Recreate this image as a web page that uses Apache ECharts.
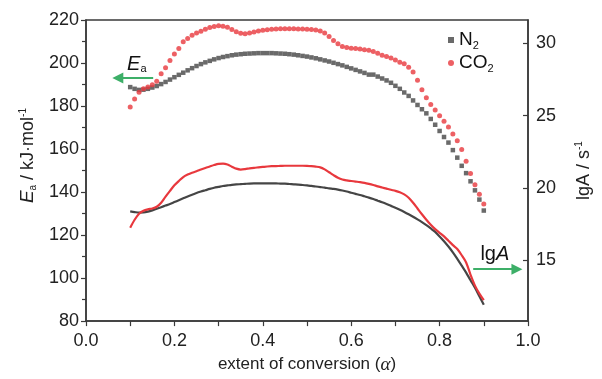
<!DOCTYPE html>
<html><head><meta charset="utf-8">
<script src="https://cdn.jsdelivr.net/npm/echarts@6/dist/echarts.min.js"></script>
<style>html,body{margin:0;padding:0;background:#fff}#c{width:602px;height:379px}</style>
</head><body><div id="c"></div>
<script>
// extent of conversion (alpha)
const alpha = [0.10,0.11,0.12,0.13,0.14,0.15,0.16,0.17,0.18,0.19,0.20,0.21,0.22,0.23,0.24,0.25,0.26,0.27,0.28,0.29,
0.30,0.31,0.32,0.33,0.34,0.35,0.36,0.37,0.38,0.39,0.40,0.41,0.42,0.43,0.44,0.45,0.46,0.47,0.48,0.49,
0.50,0.51,0.52,0.53,0.54,0.55,0.56,0.57,0.58,0.59,0.60,0.61,0.62,0.63,0.64,0.65,0.66,0.67,0.68,0.69,
0.70,0.71,0.72,0.73,0.74,0.75,0.76,0.77,0.78,0.79,0.80,0.81,0.82,0.83,0.84,0.85,0.86,0.87,0.88,0.89,0.90];
// Ea (kJ/mol), N2
const eaN2 = [188.8,188.0,187.5,187.6,188.0,188.6,189.3,190.2,191.2,192.3,193.4,194.5,195.5,196.6,197.6,198.6,199.5,200.3,201.0,201.7,
202.3,202.8,203.2,203.6,203.9,204.1,204.3,204.4,204.5,204.6,204.6,204.6,204.6,204.5,204.4,204.3,204.1,203.9,203.6,203.3,
203.0,202.6,202.2,201.7,201.2,200.7,200.1,199.5,198.9,198.2,197.5,196.8,196.1,195.4,194.6,194.6,193.7,192.8,191.9,190.8,
189.4,188.0,186.3,184.7,182.6,180.5,178.5,176.6,174.0,171.3,168.4,165.6,163.0,159.5,156.0,152.2,148.8,145.0,140.8,136.5,131.4];
// Ea (kJ/mol), CO2
const eaCO2 = [179.5,183.3,186.4,188.0,188.8,189.9,191.5,195.0,197.8,201.2,204.2,206.8,209.9,211.4,212.9,214.0,214.8,215.7,216.5,217.0,
217.3,217.1,216.6,215.6,214.5,213.8,213.6,213.9,214.4,214.9,215.2,215.5,215.7,215.8,215.9,215.9,215.9,215.9,215.8,215.8,
215.7,215.6,215.4,214.9,214.0,212.3,210.5,208.9,207.7,207.2,206.9,206.7,206.5,206.2,205.9,205.4,204.5,203.6,203.0,202.3,
201.4,200.4,199.6,198.0,195.8,192.0,187.6,183.8,180.7,178.1,175.5,172.9,170.2,167.0,163.8,159.8,154.3,148.6,143.4,139.0,134.5];
// lgA (s^-1), N2
const lgAN2 = [18.38,18.33,18.29,18.30,18.36,18.45,18.56,18.67,18.78,18.89,19.02,19.15,19.28,19.41,19.53,19.65,19.75,19.84,19.93,20.01,
20.07,20.13,20.17,20.21,20.24,20.26,20.28,20.30,20.31,20.31,20.32,20.32,20.32,20.31,20.30,20.29,20.27,20.25,20.23,20.20,
20.17,20.14,20.10,20.06,20.02,19.97,19.93,19.88,19.82,19.75,19.67,19.59,19.51,19.42,19.33,19.23,19.12,19.01,18.89,18.76,
18.63,18.49,18.34,18.18,18.01,17.83,17.64,17.43,17.20,16.96,16.65,16.32,15.95,15.55,15.10,14.63,14.15,13.62,13.10,12.52,11.93];
// lgA (s^-1), CO2
const lgACO2 = [17.25,17.80,18.22,18.42,18.52,18.58,18.70,18.98,19.40,19.80,20.18,20.48,20.75,20.92,21.05,21.15,21.27,21.38,21.48,21.58,
21.66,21.68,21.62,21.47,21.33,21.27,21.30,21.35,21.39,21.42,21.45,21.48,21.50,21.51,21.52,21.53,21.53,21.53,21.53,21.53,
21.52,21.50,21.47,21.42,21.28,21.08,20.88,20.70,20.58,20.52,20.48,20.44,20.40,20.35,20.28,20.20,20.11,20.03,19.95,19.87,
19.80,19.70,19.55,19.32,18.98,18.58,18.18,17.80,17.45,17.15,16.90,16.65,16.35,16.05,15.78,15.35,14.85,14.00,13.25,12.70,12.25];
const xTicks = [0, 0.2, 0.4, 0.6, 0.8, 1.0];
const leftTicks = [80, 100, 120, 140, 160, 180, 200, 220];
const rightTicks = [15, 20, 25, 30];
// annotation arrows in data coordinates
const eaArrow = [[0.152, 193.0], [0.072, 193.0]];
const lgArrow = [[0.876, 14.39], [0.975, 14.39]];

const FONT = '"Liberation Sans Narrow", "Arial Narrow", "Liberation Sans", Arial, sans-serif';
const AX = '#3a3a3a';
const RED = '#e8383d';
const GRAY = '#454545';
const GREEN = '#3daf68';
const pairs = (a) => alpha.map((x, i) => [x, a[i]]);

const chart = echarts.init(document.getElementById('c'), null, {renderer: 'canvas'});
chart.setOption({
  animation: false,
  backgroundColor: '#fff',
  grid: {left: 86, right: 74, top: 20, bottom: 53, show: true, borderColor: AX, borderWidth: 1.5, backgroundColor: 'transparent'},
  legend: {
    orient: 'vertical', left: 443, top: 24, itemWidth: 6, itemHeight: 6, itemGap: 1,
    textStyle: {fontFamily: FONT, fontSize: 19, color: '#111', lineHeight: 20,
      rich: {s: {fontFamily: FONT, fontSize: 11, lineHeight: 11, padding: [11, 0, 0, 0], color: '#111'}}},
    formatter: n => n === 'N2' ? 'N{s|2}' : 'CO{s|2}',
    data: [{name: 'N2', icon: 'rect'}, {name: 'CO2', icon: 'circle'}]
  },
  xAxis: {
    type: 'value', min: 0, max: 1, interval: 0.2,
    axisLine: {show: true, lineStyle: {color: AX, width: 1.5}},
    axisTick: {show: true, length: 5, lineStyle: {color: AX, width: 1.2}},
    minorTick: {show: true, splitNumber: 2, length: 5, lineStyle: {color: AX, width: 1.2}},
    splitLine: {show: false},
    axisLabel: {fontFamily: FONT, fontSize: 18, color: '#222', margin: 11,
      customValues: xTicks, formatter: v => v.toFixed(1)},
    name: 'extent of conversion ({g|α})', nameLocation: 'middle', nameGap: 29,
    nameTextStyle: {fontFamily: FONT, fontSize: 17, color: '#222',
      rich: {g: {fontFamily: '"Liberation Serif", "DejaVu Serif", serif', fontStyle: 'italic', fontSize: 19, color: '#222'}}}
  },
  yAxis: [{
    type: 'value', min: 80, max: 220, interval: 20, position: 'left',
    axisLine: {show: true, lineStyle: {color: AX, width: 1.5}},
    axisTick: {show: true, length: 5, lineStyle: {color: AX, width: 1.2}},
    minorTick: {show: true, splitNumber: 2, length: 4, lineStyle: {color: AX, width: 1.2}},
    splitLine: {show: false},
    axisLabel: {fontFamily: FONT, fontSize: 18, color: '#222', margin: 7, customValues: leftTicks},
    name: '{e|E}{s|a}{t| / kJ·mol}{p|-1}', nameLocation: 'middle', nameRotate: 90, nameGap: 46,
    nameTextStyle: {padding: [0, 0, 0, 30], fontFamily: FONT, fontSize: 18, color: '#222',
      rich: {
        e: {fontFamily: FONT, fontStyle: 'italic', fontSize: 19, color: '#222', lineHeight: 22},
        s: {fontFamily: FONT, fontSize: 10, color: '#222', padding: [10, 0, 0, 0]},
        t: {fontFamily: FONT, fontSize: 18, color: '#222', lineHeight: 22},
        p: {fontFamily: FONT, fontSize: 10, color: '#222', padding: [0, 0, 10, 0]}
      }}
  }, {
    type: 'value', min: 10.8, max: 31.6, position: 'right',
    axisLine: {show: true, lineStyle: {color: AX, width: 1.5}},
    axisTick: {show: true, inside: true, length: 5, customValues: rightTicks, lineStyle: {color: AX, width: 1.2}},
    splitLine: {show: false},
    axisLabel: {fontFamily: FONT, fontSize: 18, color: '#222', margin: 8, customValues: rightTicks},
    name: '{t|lgA / s}{p|-1}', nameLocation: 'middle', nameRotate: 90, nameGap: 45,
    nameTextStyle: {fontFamily: FONT, fontSize: 18, color: '#222',
      rich: {
        t: {fontFamily: FONT, fontSize: 18, color: '#222', lineHeight: 22},
        p: {fontFamily: FONT, fontSize: 10, color: '#222', padding: [0, 0, 10, 0]}
      }}
  }],
  series: [
    {name: 'N2 lgA', type: 'line', yAxisIndex: 1, data: pairs(lgAN2), showSymbol: false, smooth: 0.3,
     lineStyle: {color: GRAY, width: 2.2}, itemStyle: {color: GRAY}, z: 2},
    {name: 'CO2 lgA', type: 'line', yAxisIndex: 1, data: pairs(lgACO2), showSymbol: false, smooth: 0.3,
     lineStyle: {color: RED, width: 2.2}, itemStyle: {color: RED}, z: 2,
     markLine: {silent: true, symbol: ['none', 'triangle'], symbolSize: 11, label: {show: false},
       lineStyle: {color: GREEN, width: 2, type: 'solid'},
       data: [[{coord: lgArrow[0]}, {coord: lgArrow[1]}]]}},
    {name: 'N2', type: 'scatter', data: pairs(eaN2), symbol: 'rect', symbolSize: 4.5,
     itemStyle: {color: GRAY}, z: 3,
     markLine: {silent: true, symbol: ['none', 'triangle'], symbolSize: 11, label: {show: false},
       lineStyle: {color: GREEN, width: 2, type: 'solid'},
       data: [[{coord: eaArrow[0]}, {coord: eaArrow[1]}]]}},
    {name: 'CO2', type: 'scatter', data: pairs(eaCO2), symbol: 'circle', symbolSize: 5,
     itemStyle: {color: RED}, z: 3}
  ]
});

// annotation labels placed by data coordinates
const pE = chart.convertToPixel({xAxisIndex: 0, yAxisIndex: 0}, [0.115, 199.5]);
const pL = chart.convertToPixel({xAxisIndex: 0, yAxisIndex: 1}, [0.925, 15.4]);
chart.setOption({graphic: [
  {type: 'text', x: pE[0], y: pE[1], style: {text: '{e|E}{s|a}', align: 'center', verticalAlign: 'middle',
    rich: {e: {fontFamily: FONT, fontStyle: 'italic', fontSize: 20, fill: '#111', lineHeight: 22},
           s: {fontFamily: FONT, fontSize: 11, fill: '#111', padding: [10, 0, 0, 0]}}}},
  {type: 'text', x: pL[0], y: pL[1], style: {text: '{n|lg}{i|A}', align: 'center', verticalAlign: 'middle',
    rich: {n: {fontFamily: FONT, fontSize: 20, fill: '#111'},
           i: {fontFamily: FONT, fontStyle: 'italic', fontSize: 20, fill: '#111'}}}}
]});
</script></body></html>
